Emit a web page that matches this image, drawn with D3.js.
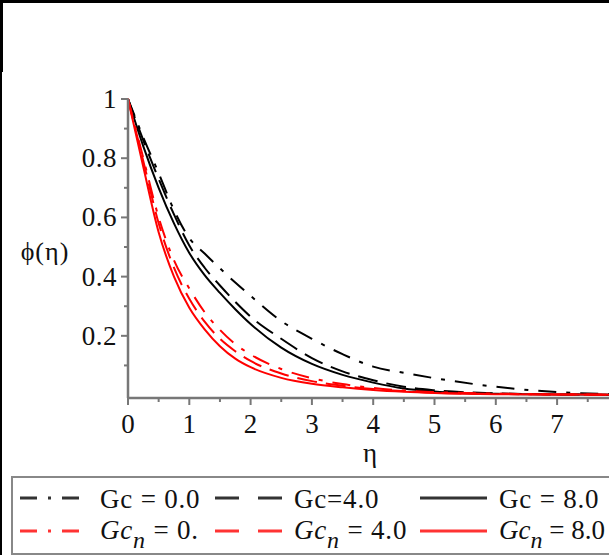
<!DOCTYPE html>
<html lang="en">
  <head>
    <meta charset="utf-8" />
    <title>phi(eta) profiles</title>
    <script type="text/javascript" src="https://d3js.org/d3.v7.min.js"></script>
    <style type="text/css">
      body { margin: 0; background: #fff; }
      text { font-family: "Liberation Serif", "Times New Roman", serif; }
    </style>
  </head>
  <body>
    <script type="text/javascript">
      // eta grid and the six curves
      var eta = [0, 0.25, 0.5, 0.75, 1, 1.25, 1.5, 1.75, 2, 2.5, 3, 3.5, 4, 4.5, 5, 6, 7, 8];
      var gc0 = [1, 0.87, 0.75, 0.625, 0.53, 0.478, 0.428, 0.38, 0.335, 0.25, 0.19, 0.138, 0.096, 0.075, 0.057, 0.028, 0.01, 0.003];
      var gc4 = [1, 0.86, 0.73, 0.61, 0.505, 0.43, 0.37, 0.315, 0.265, 0.19, 0.125, 0.08, 0.05, 0.028, 0.016, 0.006, 0.002, 0.001];
      var gc8 = [1, 0.84, 0.7, 0.58, 0.48, 0.405, 0.345, 0.29, 0.24, 0.16, 0.105, 0.068, 0.042, 0.022, 0.012, 0.004, 0.002, 0.001];
      var gcn0 = [1, 0.8, 0.6, 0.455, 0.36, 0.28, 0.22, 0.172, 0.137, 0.088, 0.057, 0.037, 0.024, 0.015, 0.01, 0.005, 0.002, 0.001];
      var gcn4 = [1, 0.79, 0.58, 0.43, 0.325, 0.248, 0.19, 0.148, 0.115, 0.073, 0.047, 0.031, 0.02, 0.013, 0.008, 0.004, 0.002, 0.001];
      var gcn8 = [1, 0.77, 0.55, 0.4, 0.295, 0.222, 0.165, 0.123, 0.094, 0.058, 0.038, 0.026, 0.017, 0.011, 0.007, 0.003, 0.002, 0.001];

      var xTicks = [0, 1, 2, 3, 4, 5, 6, 7];
      var yTicks = [0.2, 0.4, 0.6, 0.8, 1];

      var w = 609;
      var h = 555;

      var dashDot = "18,10,4,10";
      var dashed = "20,9";

      var series = [
        { vals: gc0, color: "#000", dash: dashDot },
        { vals: gc4, color: "#000", dash: dashed },
        { vals: gc8, color: "#000", dash: null },
        { vals: gcn0, color: "#f00", dash: dashDot },
        { vals: gcn4, color: "#f00", dash: dashed },
        { vals: gcn8, color: "#f00", dash: null }
      ];

      var xScale = d3.scaleLinear().domain([0, 8]).range([128, 128 + 8 * 61.3]);
      var yScale = d3.scaleLinear().domain([-0.01, 1]).range([398, 99]);

      var svg = d3
        .select("body")
        .append("svg")
        .attr("width", w)
        .attr("height", h);

      svg.append("rect").attr("width", w).attr("height", h).attr("fill", "#fff");

      // frame bits at top / left
      svg.append("rect").attr("x", 0).attr("y", 0).attr("width", w).attr("height", 3).attr("fill", "#000");
      svg.append("rect").attr("x", 0).attr("y", 0).attr("width", 3).attr("height", 72).attr("fill", "#000");
      svg.append("rect").attr("x", 0).attr("y", 72).attr("width", 2).attr("height", h - 72).attr("fill", "#000");

      var line = d3
        .line()
        .x(function (d, i) {
          return xScale(eta[i]);
        })
        .y(function (d) {
          return yScale(d);
        })
        .curve(d3.curveMonotoneX);

      svg
        .selectAll("path.curve")
        .data(series)
        .enter()
        .append("path")
        .attr("class", "curve")
        .attr("d", function (d) {
          return line(d.vals);
        })
        .attr("fill", "none")
        .attr("stroke", function (d) {
          return d.color;
        })
        .attr("stroke-width", 2)
        .attr("stroke-dasharray", function (d) {
          return d.dash;
        });

      // axes
      var axisColor = "#777";
      var x0 = xScale(0);
      var yAx = yScale(-0.01);

      svg.append("line")
        .attr("x1", x0).attr("x2", w)
        .attr("y1", yAx).attr("y2", yAx)
        .attr("stroke", axisColor).attr("stroke-width", 2.5);
      svg.append("line")
        .attr("x1", x0).attr("x2", x0)
        .attr("y1", yScale(1)).attr("y2", yAx)
        .attr("stroke", axisColor).attr("stroke-width", 2.5);

      var xMinor = d3.range(0.5, 8, 1);
      svg.selectAll("line.xmaj")
        .data(xTicks.concat([8]))
        .enter()
        .append("line")
        .attr("x1", function (d) { return xScale(d); })
        .attr("x2", function (d) { return xScale(d); })
        .attr("y1", yAx).attr("y2", yAx + 7)
        .attr("stroke", axisColor).attr("stroke-width", 2);
      svg.selectAll("line.xmin")
        .data(xMinor)
        .enter()
        .append("line")
        .attr("x1", function (d) { return xScale(d); })
        .attr("x2", function (d) { return xScale(d); })
        .attr("y1", yAx).attr("y2", yAx + 4)
        .attr("stroke", axisColor).attr("stroke-width", 2);

      var yMinor = [0.1, 0.3, 0.5, 0.7, 0.9];
      svg.selectAll("line.ymaj")
        .data(yTicks)
        .enter()
        .append("line")
        .attr("x1", x0 - 7).attr("x2", x0)
        .attr("y1", function (d) { return yScale(d); })
        .attr("y2", function (d) { return yScale(d); })
        .attr("stroke", axisColor).attr("stroke-width", 2);
      svg.selectAll("line.ymin")
        .data(yMinor)
        .enter()
        .append("line")
        .attr("x1", x0 - 4).attr("x2", x0)
        .attr("y1", function (d) { return yScale(d); })
        .attr("y2", function (d) { return yScale(d); })
        .attr("stroke", axisColor).attr("stroke-width", 2);

      svg.selectAll("text.xlab")
        .data(xTicks)
        .enter()
        .append("text")
        .attr("x", function (d) { return xScale(d); })
        .attr("y", 433)
        .attr("text-anchor", "middle")
        .attr("font-size", "27px")
        .attr("fill", "#111")
        .text(function (d) { return d; });

      svg.selectAll("text.ylab")
        .data(yTicks)
        .enter()
        .append("text")
        .attr("x", x0 - 11)
        .attr("y", function (d) { return yScale(d) + 9; })
        .attr("text-anchor", "end")
        .attr("font-size", "27px")
        .attr("letter-spacing", "0.5px")
        .attr("fill", "#111")
        .text(function (d) { return d === 1 ? "1" : d3.format(".1f")(d); });

      svg.append("text")
        .attr("x", 45).attr("y", 260)
        .attr("text-anchor", "middle")
        .attr("font-size", "26px")
        .attr("letter-spacing", "1px")
        .attr("fill", "#111")
        .text("\u03d5(\u03b7)");

      svg.append("text")
        .attr("x", 370).attr("y", 462)
        .attr("text-anchor", "middle")
        .attr("font-size", "27px")
        .attr("fill", "#111")
        .text("\u03b7");

      // legend
      svg.append("rect")
        .attr("x", 12).attr("y", 477)
        .attr("width", w).attr("height", 77)
        .attr("fill", "none")
        .attr("stroke", "#888").attr("stroke-width", 2);

      var legCols = [
        { x1: 20, x2: 82, tx: 100 },
        { x1: 215, x2: 282, tx: 294 },
        { x1: 420, x2: 487, tx: 499 }
      ];
      var legRows = [498, 531];
      var legLabels = ["Gc = 0.0", "Gc=4.0", "Gc = 8.0"];
      var legSub = [" = 0.", " = 4.0", " = 8.0"];
      var legDash = ["17,11,3,11", "24,19", null];

      legCols.forEach(function (c, i) {
        // black row
        svg.append("line")
          .attr("x1", c.x1).attr("x2", c.x2)
          .attr("y1", legRows[0]).attr("y2", legRows[0])
          .attr("stroke", "#333").attr("stroke-width", 3)
          .attr("stroke-dasharray", legDash[i]);
        svg.append("text")
          .attr("x", c.tx).attr("y", 508)
          .attr("font-size", "27px")
          .attr("letter-spacing", "0.8px")
          .attr("fill", "#111")
          .text(legLabels[i]);

        // red row
        svg.append("line")
          .attr("x1", c.x1).attr("x2", c.x2)
          .attr("y1", legRows[1]).attr("y2", legRows[1])
          .attr("stroke", "#f33").attr("stroke-width", 3)
          .attr("stroke-dasharray", legDash[i]);
        var t = svg.append("text")
          .attr("x", c.tx).attr("y", 539)
          .attr("font-size", "27px")
          .attr("letter-spacing", i === 2 ? "0px" : "0.8px")
          .attr("fill", "#111");
        t.append("tspan").attr("font-style", "italic").text("Gc");
        t.append("tspan").attr("font-style", "italic").attr("font-size", "24px").attr("dy", 9).text("n");
        t.append("tspan").attr("dy", -9).text(legSub[i]);
      });
    </script>
  </body>
</html>
